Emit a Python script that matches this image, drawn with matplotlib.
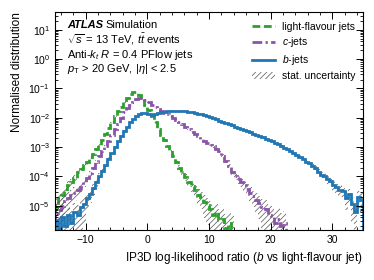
import numpy as np
import matplotlib
matplotlib.use("Agg")
import matplotlib.pyplot as plt
from matplotlib.ticker import MultipleLocator, LogLocator, NullFormatter
from matplotlib.patches import Patch
from matplotlib.lines import Line2D

plt.rcParams['font.family'] = ['Liberation Sans', 'DejaVu Sans']
plt.rcParams['mathtext.fontset'] = 'custom'
plt.rcParams['mathtext.rm'] = 'Liberation Sans'
plt.rcParams['mathtext.it'] = 'Liberation Sans:italic'
plt.rcParams['mathtext.bf'] = 'Liberation Sans:bold'
plt.rcParams['hatch.linewidth'] = 0.5

bin_width = 0.5

# log10 of the normalised distribution, one value per 0.5-wide bin
light_start = -15.0
light_log = [-4.9, -4.75, -4.65, -4.5, -4.3, -4.2, -4.05, -3.85, -3.75, -3.6,
             -3.5, -3.35, -3.25, -3.08, -2.92, -2.75, -2.55, -2.35, -2.15, -1.95,
             -1.78, -1.62, -1.48, -1.32, -1.2, -1.13, -1.12, -1.22, -1.4, -1.55,
             -1.75, -1.95, -2.15, -2.38, -2.58, -2.76, -2.95, -3.1, -3.3, -3.5,
             -3.7, -3.85, -4.02, -4.18, -4.32, -4.48, -4.62, -4.72, -4.88, -4.98,
             -5.12, -5.3, -5.2, -5.5, -5.45, -5.75, -5.6, -5.8]

c_start = -15.0
c_log = [-5.25, -5.15, -5.0, -4.85, -4.75, -4.65, -4.55, -4.45, -4.35, -4.2,
         -4.05, -3.9, -3.7, -3.5, -3.32, -3.15, -2.95, -2.8, -2.6, -2.4,
         -2.2, -2.0, -1.82, -1.67, -1.55, -1.45, -1.37, -1.33, -1.32, -1.4,
         -1.48, -1.55, -1.63, -1.7, -1.77, -1.83, -1.88, -1.93, -2.0, -2.07,
         -2.14, -2.21, -2.3, -2.4, -2.48, -2.56, -2.64, -2.71, -2.78, -2.86,
         -2.92, -2.98, -3.05, -3.15, -3.3, -3.48, -3.65, -3.85, -4.0, -4.1,
         -4.2, -4.3, -4.42, -4.55, -4.68, -4.8, -4.9, -5.05, -5.1, -5.3,
         -5.35, -5.6, -5.45, -5.7, -5.6]

b_start = -15.0
b_log = [-5.5, -5.8, -5.4, -5.7, -5.3, -5.6, -5.2, -5.3, -5.05, -4.95,
         -4.75, -4.6, -4.4, -4.2, -4.0, -3.8, -3.6, -3.4, -3.2, -3.0,
         -2.8, -2.62, -2.45, -2.3, -2.14, -2.03, -1.95, -1.88, -1.84, -1.83,
         -1.87, -1.9, -1.88, -1.84, -1.81, -1.79, -1.77, -1.76, -1.76, -1.76,
         -1.76, -1.77, -1.78, -1.8, -1.81, -1.83, -1.86, -1.88, -1.91, -1.95,
         -1.98, -2.02, -2.06, -2.1, -2.14, -2.18, -2.22, -2.26, -2.3, -2.34,
         -2.38, -2.42, -2.46, -2.5, -2.54, -2.58, -2.62, -2.66, -2.71, -2.76,
         -2.81, -2.86, -2.91, -2.96, -3.02, -3.08, -3.14, -3.2, -3.27, -3.33,
         -3.4, -3.5, -3.56, -3.65, -3.72, -3.85, -3.95, -4.0, -4.1, -4.15,
         -4.3, -4.35, -4.45, -4.5, -4.75, -4.6, -4.95, -5.2, -4.7, -4.8]

n_eff = 1.5e5  # effective number of entries for the Poisson band

series = [
    ("light-flavour jets", light_start, light_log, "#2ca02c", (0, (2.8, 1.3))),
    ("$c$-jets", c_start, c_log, "#8a55a8", (0, (3.5, 1.2, 0.8, 1.2))),
    ("$b$-jets", b_start, b_log, "#1f77b4", "solid"),
]

lw = 2.0
fig = plt.figure(figsize=(3.74, 2.8), dpi=100)
ax = fig.add_axes([0.147, 0.179, 0.824, 0.778])

handles = []
for label, start, logv, col, ls in series:
    vals = 10 ** np.array(logv)
    edges = start + bin_width * np.arange(len(vals) + 1)
    err = np.sqrt(vals / n_eff)
    lo = np.append(vals - err, vals[-1] - err[-1])
    hi = np.append(vals + err, vals[-1] + err[-1])
    lo = np.clip(lo, 1e-9, None)
    ax.fill_between(edges, lo, hi, step='post', facecolor='none',
                    edgecolor='#555555', hatch='//////', linewidth=0)
    ax.stairs(vals, edges, color=col, linestyle=ls, linewidth=lw)
    handles.append(Line2D([], [], color=col, linestyle=ls, linewidth=lw))

handles.append(Patch(facecolor='none', edgecolor='#555555', hatch='//////', linewidth=0))
labels = [s[0] for s in series] + ["stat. uncertainty"]

ax.set_yscale('log')
ax.set_xlim(-15, 35)
ax.set_ylim(1.5e-6, 40)
ax.xaxis.set_major_locator(MultipleLocator(10))
ax.xaxis.set_minor_locator(MultipleLocator(2))
ax.yaxis.set_major_locator(LogLocator(base=10, numticks=20))
ax.yaxis.set_minor_locator(LogLocator(base=10, subs=np.arange(2, 10), numticks=20))
ax.yaxis.set_minor_formatter(NullFormatter())
ax.tick_params(which='both', direction='in', top=True, right=True, labelsize=7.5)
ax.tick_params(which='major', length=5, width=0.7)
ax.tick_params(which='minor', length=2.5, width=0.6)
for sp in ax.spines.values():
    sp.set_linewidth(0.8)

ax.set_ylabel("Normalised distribution", fontsize=8.5, loc='top')
ax.set_xlabel("IP3D log-likelihood ratio ($b$ vs light-flavour jet)", fontsize=8.5, loc='right')

tx = 0.039
fs = 8
ax.text(tx, 0.94, "ATLAS", transform=ax.transAxes, fontsize=fs,
        fontweight='bold', style='italic', va='center')
ax.text(tx + 0.125, 0.94, "Simulation", transform=ax.transAxes, fontsize=fs, va='center')
ax.text(tx, 0.872, r"$\sqrt{s}$ = 13 TeV, $t\bar{t}$ events", transform=ax.transAxes,
        fontsize=fs, va='center')
ax.text(tx, 0.805, r"Anti-$k_{t}$ $R$ = 0.4 PFlow jets", transform=ax.transAxes,
        fontsize=fs, va='center')
ax.text(tx, 0.737, r"$p_{\mathrm{T}}$ > 20 GeV, $|\eta|$ < 2.5", transform=ax.transAxes,
        fontsize=fs, va='center')

ax.legend(handles, labels, loc='upper right', frameon=False, fontsize=7.5,
          handlelength=2.2, handletextpad=0.7, labelspacing=0.38,
          borderaxespad=0.3, bbox_to_anchor=(1.0, 0.99))

fig.savefig("out.png", dpi=100)
